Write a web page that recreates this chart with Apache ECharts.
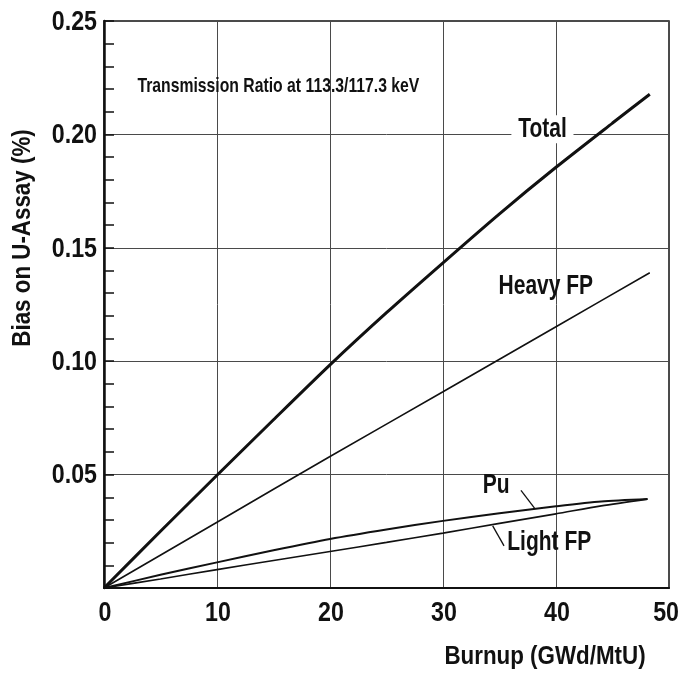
<!DOCTYPE html>
<html>
<head>
<meta charset="utf-8">
<script src="https://cdn.jsdelivr.net/npm/echarts@6/dist/echarts.min.js"></script>
<style>
  html, body { margin: 0; padding: 0; background: #fff; overflow: hidden; }
  #chart { width: 681px; height: 677px; }
</style>
</head>
<body>
<div id="chart"></div>
<script>
// Burnup (GWd/MtU) sample points and bias values (%) for each contribution
const totalX = [0, 5, 10, 15, 20, 25, 30, 35, 40, 45, 48.3];
const totalY = [0, 0.0250, 0.0497, 0.0742, 0.0984, 0.1214, 0.1434, 0.1650, 0.1855, 0.2050, 0.2177];

const heavyX = [0, 10, 20, 30, 40, 48.3];
const heavyY = [0, 0.0290, 0.0580, 0.0865, 0.1152, 0.1390];

const lowX = [0, 5, 10, 15, 20, 25, 30, 35, 40, 44, 48.1];
const puY = [0, 0.0058, 0.0113, 0.0166, 0.0216, 0.0258, 0.0296, 0.0330, 0.0360, 0.0381, 0.0392];
const lightY = [0, 0.0040, 0.0081, 0.0121, 0.0161, 0.0201, 0.0242, 0.0285, 0.0327, 0.0362, 0.0392];

const xTicks = [0, 10, 20, 30, 40, 50];
const yTicks = [0.05, 0.10, 0.15, 0.20, 0.25];

const seriesNames = ['Total', 'Heavy FP', 'Pu', 'Light FP'];
const titleText = 'Transmission Ratio at 113.3/117.3 keV';
const xName = 'Burnup (GWd/MtU)';
const yName = 'Bias on U-Assay (%)';

// Bold sans, squeezed horizontally to a condensed face
const FONT = '"Liberation Sans", Arial, sans-serif';
const INK = '#111';
const W = 681;

function pairs(xs, ys) { return xs.map((x, i) => [x, ys[i]]); }

const chart = echarts.init(document.getElementById('chart'), null, { renderer: 'canvas' });

const lineSeries = (name, data, width) => ({
  name, type: 'line', data, showSymbol: false, smooth: 0.25,
  lineStyle: { color: INK, width }, z: 5
});

chart.setOption({
  animation: false,
  backgroundColor: '#fff',
  grid: {
    left: 104, right: 12, top: 21, bottom: 89,
    outerBoundsMode: 'none', containLabel: false,
    show: true, borderColor: INK, borderWidth: 1.5
  },
  xAxis: {
    type: 'value', min: 0, max: 50, interval: 10,
    axisLine: { show: true, lineStyle: { color: INK, width: 2 } },
    axisTick: { show: false },
    axisLabel: { show: false },
    splitLine: { show: true, lineStyle: { color: '#4a4a4a', width: 1 } }
  },
  yAxis: {
    type: 'value', min: 0, max: 0.25, interval: 0.05,
    axisLine: { show: true, lineStyle: { color: INK, width: 2.5 } },
    axisTick: { show: true, inside: true, length: 10, lineStyle: { color: INK, width: 1.5 } },
    minorTick: { show: true, splitNumber: 5, length: 10, lineStyle: { color: INK, width: 1.5 } },
    axisLabel: { show: false },
    splitLine: { show: true, lineStyle: { color: '#4a4a4a', width: 1 } }
  },
  series: [
    lineSeries(seriesNames[0], pairs(totalX, totalY), 3),
    lineSeries(seriesNames[1], pairs(heavyX, heavyY), 1.6),
    lineSeries(seriesNames[2], pairs(lowX, puY), 2),
    lineSeries(seriesNames[3], pairs(lowX, lightY), 1.6)
  ]
});

const px = p => chart.convertToPixel({ gridIndex: 0 }, p);
const graphics = [];

function addText(x, y, text, size, squeeze, align, extra) {
  graphics.push(Object.assign({
    type: 'text', x, y, z: 20, scaleX: squeeze,
    style: Object.assign({
      text, fill: INK, font: 'bold ' + size + 'px ' + FONT,
      align, verticalAlign: 'middle'
    }, (extra && extra.style) || {})
  }, (extra && extra.el) || {}));
}

// Tick labels placed at the axis tick values; the last one is kept inside the page
const xAxisPx = px([0, 0])[1];
const tickFont = 28, tickSqueeze = 0.83;
const measure = t => echarts.format.getTextRect
  ? echarts.format.getTextRect(t, 'bold ' + tickFont + 'px ' + FONT).width * tickSqueeze
  : t.length * tickFont * 0.46;
xTicks.forEach(v => {
  const p = px([v, 0]);
  const label = String(v);
  const half = measure(label) / 2;
  const cx = Math.min(p[0] + 1, W - 2 - half);
  addText(cx, xAxisPx + 25, label, tickFont, tickSqueeze, 'center');
});
yTicks.forEach(v => {
  const p = px([0, v]);
  addText(97, p[1] + 1, v.toFixed(2), tickFont, tickSqueeze, 'right');
});

// Curve labels, placed in data coordinates
const labelSpots = [
  { text: seriesNames[0], at: [38.8, 0.2023], box: true },
  { text: seriesNames[1], at: [39.1, 0.1332] },
  { text: seriesNames[2], at: [34.7, 0.0455] },
  { text: seriesNames[3], at: [39.4, 0.0200] }
];
labelSpots.forEach(s => {
  const [x, y] = px(s.at);
  addText(x, y, s.text, 28, 0.75, 'center', s.box ? {
    style: { backgroundColor: '#fff', padding: [0, 9] }
  } : null);
});

// Short leader strokes from the Pu and Light FP labels to their curves
const leaders = [
  [[36.9, 0.0430], [38.1, 0.0352]],
  [[34.4, 0.0274], [35.4, 0.0186]]
];
leaders.forEach(seg => {
  const a = px(seg[0]), b = px(seg[1]);
  graphics.push({
    type: 'line', z: 20,
    shape: { x1: a[0], y1: a[1], x2: b[0], y2: b[1] },
    style: { stroke: INK, lineWidth: 1.3 }
  });
});

// Plot note
const tPos = px([2.96, 0.2213]);
addText(tPos[0], tPos[1], titleText, 21, 0.75, 'left');

// Axis titles
addText(545, 657, xName, 26, 0.86, 'center');
addText(22.5, 238, yName, 26, 0.86, 'center', { el: { rotation: Math.PI / 2 } });

chart.setOption({ graphic: graphics });
</script>
</body>
</html>
